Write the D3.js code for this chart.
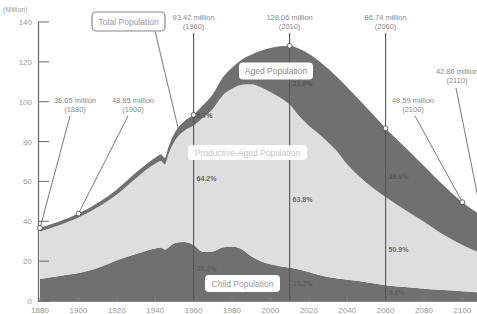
<!DOCTYPE html>
<html>
<head>
<meta charset="utf-8">
<script src="https://cdn.jsdelivr.net/npm/d3@7.9.0/dist/d3.min.js"></script>
<style>
  body { margin: 0; background: #fff; }
  svg { display: block; font-family: "Liberation Sans", Arial, sans-serif; }
  svg text { opacity: 0.99; }
  .tick-label { fill: #999; font-size: 8px; }
  .note { fill: #888; font-size: 7.5px; }
  .pct { font-size: 7px; font-weight: bold; }
</style>
</head>
<body>
<svg id="chart" width="477" height="314"></svg>
<script>
// population of Japan, millions
const years = [1880, 1890, 1900, 1910, 1920, 1930, 1940, 1943, 1945, 1947, 1950, 1955, 1960, 1965,
  1970, 1975, 1980, 1985, 1990, 1995, 2000, 2005, 2010, 2015, 2020, 2025, 2030, 2035, 2040,
  2045, 2050, 2055, 2060, 2070, 2080, 2090, 2100, 2110];
const childPop = [11.0, 12.5, 14.0, 16.5, 20.4, 23.6, 26.4, 26.8, 25.8, 27.0, 29.0, 29.6, 28.1, 24.6,
  24.8, 26.8, 27.3, 26.0, 22.5, 20.0, 18.5, 17.5, 16.8, 15.8, 14.6, 13.2, 12.0, 11.3, 10.7,
  10.2, 9.4, 8.6, 7.9, 7.0, 6.2, 5.5, 4.9, 4.3];
const productivePop = [23.85, 25.5, 27.85, 30.5, 33.06, 38.05, 42.43, 43.4, 42.7, 46.9, 51.0, 55.68, 59.92, 67.5,
  71.6, 76.24, 79.16, 82.55, 86.21, 87.27, 86.43, 84.57, 81.76, 77.0, 73.4, 70.86, 67.72, 63.52, 57.88,
  53.41, 49.98, 47.03, 44.24, 38.8, 33.6, 27.9, 23.19, 19.56];
const agedPop = [1.8, 1.9, 2.0, 2.2, 2.5, 2.8, 3.1, 3.3, 3.3, 3.6, 4.1, 4.8, 5.4, 6.2,
  7.3, 8.9, 10.6, 12.5, 14.9, 18.3, 22.0, 25.7, 29.5, 33.8, 36.1, 36.6, 36.9, 37.3, 38.7,
  38.6, 37.7, 36.3, 34.6, 31.5, 28.0, 24.8, 21.5, 19.0];

const xTicks = [1880, 1900, 1920, 1940, 1960, 1980, 2000, 2020, 2040, 2060, 2080, 2100];
const yTicks = [0, 20, 40, 60, 80, 100, 120, 140];

// highlighted totals
const markYears = [1960, 2010, 2060];
const markTotals = [93.42, 128.06, 86.74];
const sideYears = [1880, 1900, 2100, 2110];
const sideTotals = [36.65, 43.85, 49.59, 42.86];

// shares at the three marked years: aged, productive, child
const agedShare = ['5.7%', '23.0%', '39.9%'];
const prodShare = ['64.2%', '63.8%', '50.9%'];
const childShare = ['30.2%', '13.2%', '9.1%'];

const table = years.map((y, i) => ({
  year: y, child: childPop[i], productive: productivePop[i], aged: agedPop[i]
}));

const svg = d3.select('#chart');
const x = d3.scaleLinear().domain([1880, 2110]).range([40, 481.6]);
const y = d3.scaleLinear().domain([0, 140]).range([301, 22]);

const stack = d3.stack().keys(['child', 'productive', 'aged']);
const series = stack(table);
const colors = { child: '#707070', productive: '#dedede', aged: '#707070' };

const area = d3.area()
  .x((d) => x(d.data.year))
  .y0((d) => y(d[0]))
  .y1((d) => y(d[1]))
  .curve(d3.curveMonotoneX);

svg.selectAll('path.layer')
  .data(series)
  .join('path')
  .attr('class', 'layer')
  .attr('fill', (d) => colors[d.key])
  .attr('d', area);

// axes
svg.append('line')
  .attr('x1', 38).attr('x2', 477).attr('y1', y(0) + 0.5).attr('y2', y(0) + 0.5)
  .attr('stroke', '#888').attr('stroke-width', 1.2);
svg.append('line')
  .attr('x1', 38.5).attr('x2', 38.5).attr('y1', y(140)).attr('y2', y(0) + 1)
  .attr('stroke', '#666').attr('stroke-width', 1.2);

svg.selectAll('line.ytick')
  .data(yTicks)
  .join('line')
  .attr('class', 'ytick')
  .attr('x1', 38).attr('x2', 49)
  .attr('y1', (d) => y(d)).attr('y2', (d) => y(d))
  .attr('stroke', '#666');
svg.selectAll('text.ylab')
  .data(yTicks)
  .join('text')
  .attr('class', 'tick-label ylab')
  .attr('x', 32).attr('y', (d) => y(d) + 3)
  .attr('text-anchor', 'end')
  .text((d) => d);
svg.append('text')
  .attr('class', 'tick-label')
  .attr('x', 3).attr('y', 12)
  .style('font-size', '7px')
  .text('(Million)');

svg.selectAll('line.xtick')
  .data(xTicks)
  .join('line')
  .attr('class', 'xtick')
  .attr('x1', (d) => x(d)).attr('x2', (d) => x(d))
  .attr('y1', y(0) - 4).attr('y2', y(0))
  .attr('stroke', '#888');
svg.selectAll('text.xlab')
  .data(xTicks)
  .join('text')
  .attr('class', 'tick-label xlab')
  .attr('x', (d) => x(d)).attr('y', 313)
  .attr('text-anchor', 'middle')
  .text((d) => d);

// vertical markers
markYears.forEach((yr, i) => {
  svg.append('line')
    .attr('x1', x(yr)).attr('x2', x(yr))
    .attr('y1', 33).attr('y2', y(0))
    .attr('stroke', '#555').attr('stroke-width', 1.1);
  svg.append('text').attr('class', 'note')
    .attr('x', x(yr)).attr('y', 20).attr('text-anchor', 'middle')
    .text(`${markTotals[i].toFixed(2)} million`);
  svg.append('text').attr('class', 'note')
    .attr('x', x(yr)).attr('y', 29).attr('text-anchor', 'middle')
    .text(`(${yr})`);
});

// side labels with leader lines
const sideLabelPos = [[75, 103], [133, 103], [413, 103], [457, 74]];
const sideLineStart = [[70, 116], [128, 116], [415, 116], [456, 88]];
sideYears.forEach((yr, i) => {
  const [lx, ly] = sideLabelPos[i];
  const [sx, sy] = sideLineStart[i];
  svg.append('line')
    .attr('x1', sx).attr('y1', sy)
    .attr('x2', x(yr)).attr('y2', y(sideTotals[i]))
    .attr('stroke', '#555').attr('stroke-width', 0.8);
  svg.append('text').attr('class', 'note')
    .attr('x', lx).attr('y', ly).attr('text-anchor', 'middle')
    .text(`${sideTotals[i].toFixed(2)} million`);
  svg.append('text').attr('class', 'note')
    .attr('x', lx).attr('y', ly + 9).attr('text-anchor', 'middle')
    .text(`(${yr})`);
});

// markers on total line
const allMarks = markYears.concat(sideYears);
const allTotals = markTotals.concat(sideTotals);
svg.selectAll('circle.mark')
  .data(allMarks.map((yr, i) => [yr, allTotals[i]]))
  .join('circle')
  .attr('class', 'mark')
  .attr('cx', (d) => x(d[0])).attr('cy', (d) => y(d[1]))
  .attr('r', 2.4)
  .attr('fill', '#fff').attr('stroke', '#555').attr('stroke-width', 0.9);

// share percentages
const shareY = [
  [118, 181, 271],
  [86, 202, 286],
  [179, 252, 295]
];
markYears.forEach((yr, i) => {
  const texts = [agedShare[i], prodShare[i], childShare[i]];
  const fills = ['#555', '#666', '#5c5c5c'];
  texts.forEach((t, j) => {
    svg.append('text').attr('class', 'pct')
      .attr('x', x(yr) + 3).attr('y', shareY[i][j])
      .attr('fill', fills[j])
      .text(t);
  });
});

// boxed series labels
function boxLabel(text, cx, cy, w, h, textColor, border) {
  svg.append('rect')
    .attr('x', cx - w / 2).attr('y', cy - h / 2)
    .attr('width', w).attr('height', h).attr('rx', 4)
    .attr('fill', '#fff')
    .attr('stroke', border || 'none').attr('stroke-width', 1.2);
  svg.append('text')
    .attr('x', cx).attr('y', cy + 3)
    .attr('text-anchor', 'middle')
    .attr('fill', textColor)
    .style('font-size', '8.5px')
    .text(text);
}

// leader from Total Population box to curve
svg.append('line')
  .attr('x1', 155).attr('y1', 31)
  .attr('x2', x(1952)).attr('y2', y(86.5))
  .attr('stroke', '#555').attr('stroke-width', 0.8);

boxLabel('Total Population', 128.5, 21.5, 73, 19, '#999', '#888');
boxLabel('Aged Population', 276, 71, 74, 17, '#888');
boxLabel('Productive-Aged Population', 247.5, 152.5, 119, 15, '#c4c4c4');
boxLabel('Child Population', 242.5, 283.5, 75, 17, '#999');
</script>
</body>
</html>
